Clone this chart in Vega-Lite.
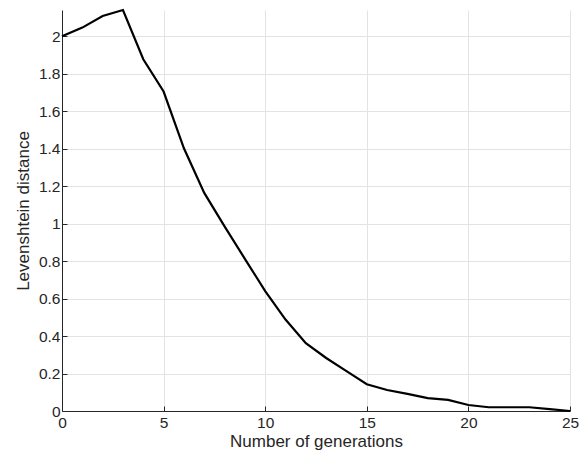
{
  "$schema": "https://vega.github.io/schema/vega-lite/v6.json",
  "autosize": "none",
  "padding": {"left": 62, "top": 10, "right": 11, "bottom": 46},
  "width": 508,
  "height": 401,
  "background": "white",
  "config": {
    "font": "Liberation Sans",
    "view": {"stroke": null},
    "axis": {
      "labelFont": "Liberation Sans",
      "titleFont": "Liberation Sans",
      "labelFontSize": 15.5,
      "titleFontSize": 17,
      "titleFontWeight": "normal",
      "labelColor": "#262626",
      "titleColor": "#262626",
      "domainColor": "#262626",
      "tickColor": "#262626",
      "gridColor": "#e3e3e3",
      "gridWidth": 1,
      "domainWidth": 1,
      "tickSize": -5,
      "labelFlush": false,
      "labelOverlap": false
    }
  },
  "data": {
    "values": [
      {"gen": 0, "dist": 2.0},
      {"gen": 1, "dist": 2.046},
      {"gen": 2, "dist": 2.108},
      {"gen": 3, "dist": 2.14},
      {"gen": 4, "dist": 1.877},
      {"gen": 5, "dist": 1.705},
      {"gen": 6, "dist": 1.402},
      {"gen": 7, "dist": 1.164},
      {"gen": 8, "dist": 0.985},
      {"gen": 9, "dist": 0.812},
      {"gen": 10, "dist": 0.64},
      {"gen": 11, "dist": 0.488},
      {"gen": 12, "dist": 0.362},
      {"gen": 13, "dist": 0.283},
      {"gen": 14, "dist": 0.213},
      {"gen": 15, "dist": 0.143},
      {"gen": 16, "dist": 0.112},
      {"gen": 17, "dist": 0.091},
      {"gen": 18, "dist": 0.069},
      {"gen": 19, "dist": 0.059},
      {"gen": 20, "dist": 0.032},
      {"gen": 21, "dist": 0.02},
      {"gen": 22, "dist": 0.02},
      {"gen": 23, "dist": 0.02},
      {"gen": 24, "dist": 0.01},
      {"gen": 25, "dist": 0.0}
    ]
  },
  "mark": {"type": "line", "color": "black", "strokeWidth": 2.2, "clip": false},
  "encoding": {
    "x": {
      "field": "gen",
      "type": "quantitative",
      "scale": {"domain": [0, 25], "nice": false},
      "axis": {
        "values": [0, 5, 10, 15, 20, 25],
        "title": "Number of generations",
        "labelPadding": 9,
        "titlePadding": 3
      }
    },
    "y": {
      "field": "dist",
      "type": "quantitative",
      "scale": {"domain": [0, 2.14], "nice": false, "zero": true},
      "axis": {
        "values": [0, 0.2, 0.4, 0.6, 0.8, 1, 1.2, 1.4, 1.6, 1.8, 2],
        "format": ".2~f",
        "title": "Levenshtein distance",
        "labelPadding": 7,
        "titlePadding": 6
      }
    }
  }
}
